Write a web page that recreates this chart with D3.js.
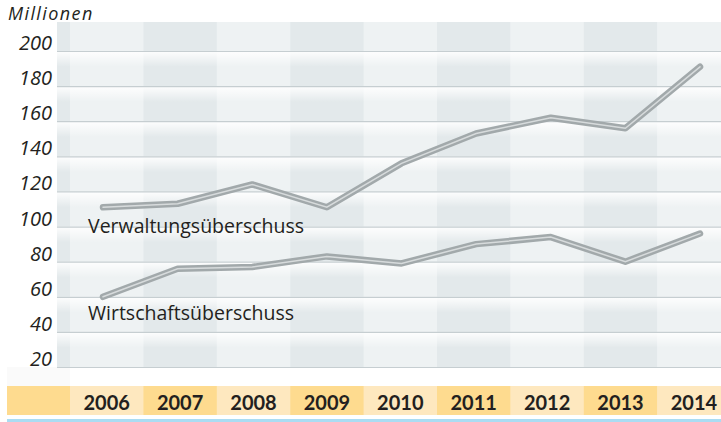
<!DOCTYPE html>
<html>
<head>
<meta charset="utf-8">
<script src="https://cdn.jsdelivr.net/npm/d3@7"></script>
<style>
  body { margin: 0; background: #fff; }
  text { font-family: 'Open Sans', sans-serif; fill: #231f20; }
</style>
</head>
<body>
<svg class="chart" width="721" height="422"></svg>
<script>
// data (Mio.)
const years = [2006, 2007, 2008, 2009, 2010, 2011, 2012, 2013, 2014]
const verwaltung = [111, 113, 124, 111, 136, 153, 162, 156, 191]
const wirtschaft = [60, 76, 77, 83, 79, 90, 94, 80, 96]
const yTicks = [20, 40, 60, 80, 100, 120, 140, 160, 180, 200]
const seriesLabels = ['Verwaltungsüberschuss', 'Wirtschaftsüberschuss']

const svg = d3.select('.chart')
const width = +svg.attr('width')

const plotLeft = 57
const plotTop = 22
const colStart = 70
const colWidth = 73.4

const x = d3.scaleBand()
  .domain(years)
  .range([colStart, colStart + colWidth * years.length])
  .padding(0)

// point positions for the lines
const xLine = d3.scaleLinear().domain([2006, 2014]).range([103, 700])

const y = d3.scaleLinear().domain([20, 200]).range([367, 51])

const defs = svg.append('defs')
const grad = defs.append('linearGradient')
  .attr('id', 'bandGrad')
  .attr('x1', 0).attr('y1', 0).attr('x2', 0).attr('y2', 1)
grad.append('stop').attr('offset', '0%').attr('stop-color', '#fff').attr('stop-opacity', 0.95)
grad.append('stop').attr('offset', '45%').attr('stop-color', '#fff').attr('stop-opacity', 0)
grad.append('stop').attr('offset', '100%').attr('stop-color', '#fff').attr('stop-opacity', 0)

// column shading (first narrow strip dark, then alternating)
const bg = svg.append('g')
bg.append('rect')
  .attr('x', plotLeft).attr('y', plotTop)
  .attr('width', colStart - plotLeft).attr('height', y(20) - plotTop)
  .attr('fill', '#e3e9eb')
bg.selectAll('.col')
  .data(years)
  .enter()
  .append('rect')
  .attr('class', 'col')
  .attr('x', d => x(d))
  .attr('y', plotTop)
  .attr('width', x.bandwidth() + 0.5)
  .attr('height', y(20) - plotTop)
  .attr('fill', (d, i) => i % 2 === 0 ? '#eef2f3' : '#e3e9eb')

// white fade below each gridline
const bandEdges = [plotTop].concat(yTicks.slice().reverse().map(v => y(v)))
bg.selectAll('.fade')
  .data(bandEdges.slice(1, -1))
  .enter()
  .append('rect')
  .attr('class', 'fade')
  .attr('x', plotLeft)
  .attr('y', d => d)
  .attr('width', width - plotLeft)
  .attr('height', y(180) - y(200))
  .attr('fill', 'url(#bandGrad)')

// faint strip under the last gridline
bg.append('rect')
  .attr('x', 7).attr('y', y(20))
  .attr('width', colStart - 7).attr('height', 386 - y(20))
  .attr('fill', '#fafafa')

// gridlines
svg.append('g')
  .selectAll('line')
  .data(yTicks)
  .enter()
  .append('line')
  .attr('x1', plotLeft).attr('x2', width)
  .attr('y1', d => y(d) + 0.5).attr('y2', d => y(d) + 0.5)
  .attr('stroke', '#c6ced1')
  .attr('stroke-width', 1.2)

// y labels
svg.append('g')
  .selectAll('text')
  .data(yTicks)
  .enter()
  .append('text')
  .attr('x', 52)
  .attr('y', d => y(d) - 1)
  .attr('text-anchor', 'end')
  .style('font-size', '20px')
  .style('font-style', 'italic')
  .text(d => d)

svg.append('text')
  .attr('x', 8).attr('y', 19.5)
  .style('font-size', '18px')
  .style('font-style', 'italic')
  .style('letter-spacing', '1.4px')
  .text('Millionen')

// year band at the bottom
const axis = svg.append('g')
axis.append('rect')
  .attr('x', 7).attr('y', 386)
  .attr('width', colStart - 7).attr('height', 29)
  .attr('fill', '#fedb8f')
axis.selectAll('rect.yr')
  .data(years)
  .enter()
  .append('rect')
  .attr('class', 'yr')
  .attr('x', d => x(d))
  .attr('y', 386)
  .attr('width', x.bandwidth() + 0.5)
  .attr('height', 29)
  .attr('fill', (d, i) => i % 2 === 0 ? '#fee8bf' : '#fedb8f')
axis.selectAll('text')
  .data(years)
  .enter()
  .append('text')
  .attr('x', d => x(d) + x.bandwidth() / 2)
  .attr('y', 410)
  .attr('text-anchor', 'middle')
  .style('font-family', 'Lato, sans-serif')
  .style('font-size', '20px')
  .style('font-weight', 'bold')
  .text(d => d)

svg.append('rect')
  .attr('x', 7).attr('y', 419)
  .attr('width', width - 7).attr('height', 3)
  .attr('fill', '#aadcf3')

// lines
const line = d3.line()
  .x((d, i) => xLine(years[i]))
  .y(d => y(d))

const lines = svg.append('g')
;[verwaltung, wirtschaft].forEach(s => {
  lines.append('path')
    .attr('d', line(s))
    .attr('fill', 'none')
    .attr('stroke', '#a2a9ab')
    .attr('stroke-width', 6.5)
    .attr('stroke-linecap', 'round')
    .attr('stroke-linejoin', 'round')
  lines.append('path')
    .attr('d', line(s))
    .attr('fill', 'none')
    .attr('stroke', '#d7dbdc')
    .attr('stroke-width', 1.5)
    .attr('stroke-linecap', 'round')
})

// series labels
svg.selectAll('.series-label')
  .data(seriesLabels)
  .enter()
  .append('text')
  .attr('class', 'series-label')
  .attr('x', 88)
  .attr('y', (d, i) => i === 0 ? 233 : 320)
  .style('font-size', '19.5px')
  .text(d => d)
</script>
</body>
</html>
